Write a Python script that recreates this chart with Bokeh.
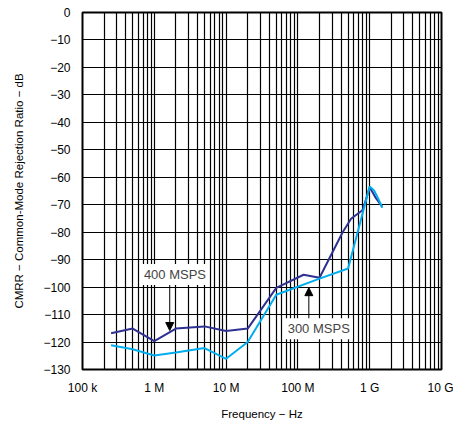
from bokeh.plotting import figure
from bokeh.models import FixedTicker, Label, Arrow, NormalHead, Range1d
from bokeh.embed import file_html
from bokeh.resources import INLINE

# ---- data ----
freq_400 = [0.25e6, 0.5e6, 1e6, 2e6, 5e6, 10e6, 20e6, 50e6, 120e6, 200e6,
            420e6, 550e6, 800e6, 1.0e9, 1.2e9, 1.5e9]
cmrr_400 = [-116.8, -115.1, -119.7, -115.1, -114.3, -116.0, -115.1, -100.3, -95.5, -96.6,
            -80.0, -75.1, -71.9, -63.6, -67.3, -70.8]

freq_300 = [0.25e6, 0.5e6, 1e6, 2e6, 5e6, 10e6, 20e6, 50e6, 200e6, 500e6,
            1.0e9, 1.15e9, 1.25e9, 1.5e9]
cmrr_300 = [-121.2, -122.6, -124.9, -123.8, -122.2, -126.1, -120.0, -102.8, -96.9, -93.2,
            -63.4, -64.8, -66.6, -71.1]

x_ticks = [1e5, 1e6, 1e7, 1e8, 1e9, 1e10]
x_tick_labels = ["100 k", "1 M", "10 M", "100 M", "1 G", "10 G"]
y_ticks = list(range(-130, 1, 10))
y_tick_labels = ["0" if v == 0 else "\u2212" + str(-v) for v in y_ticks]

DARK = "#2E3192"
LIGHT = "#00AEEF"
FONT = "Liberation Sans"

p = figure(width=453, height=422, x_axis_type="log",
           x_range=Range1d(1e5, 1e10), y_range=Range1d(-130, 0),
           output_backend="svg", toolbar_location=None,
           min_border_left=82, min_border_right=12, min_border_top=12, min_border_bottom=53)

minor = [m * d for d in x_ticks[:-1] for m in range(2, 10)]
p.xaxis.ticker = FixedTicker(ticks=x_ticks, minor_ticks=minor)
p.yaxis.ticker = FixedTicker(ticks=y_ticks)
p.xaxis.major_label_overrides = {t: l for t, l in zip(x_ticks, x_tick_labels)}
p.yaxis.major_label_overrides = {t: l for t, l in zip(y_ticks, y_tick_labels)}

for ax in (p.xaxis, p.yaxis):
    ax.major_tick_line_color = None
    ax.minor_tick_line_color = None
    ax.axis_line_color = None
    ax.major_label_text_font = FONT
    ax.major_label_text_font_size = "12px"
    ax.major_label_text_color = "black"
    ax.axis_label_text_font = FONT
    ax.axis_label_text_font_size = "11.5px"
    ax.axis_label_text_font_style = "normal"
    ax.axis_label_text_color = "black"

p.xaxis.axis_label = "Frequency \u2212 Hz"
p.yaxis.axis_label = "CMRR \u2212 Common-Mode Rejection Ratio \u2212 dB"
p.xaxis.major_label_standoff = 5
p.xaxis.axis_label_standoff = 10
p.yaxis.major_label_standoff = 6
p.yaxis.axis_label_standoff = 15

p.xgrid.ticker = p.xaxis.ticker
p.ygrid.ticker = p.yaxis.ticker
p.xgrid.grid_line_color = "black"
p.xgrid.grid_line_alpha = 1.0
p.xgrid.grid_line_width = 1.2
p.xgrid.minor_grid_line_color = "black"
p.xgrid.minor_grid_line_width = 1.2
p.ygrid.grid_line_color = "black"
p.ygrid.grid_line_alpha = 1.0
p.ygrid.grid_line_width = 1.2

p.outline_line_color = "black"
p.outline_line_width = 2
p.background_fill_color = "white"
p.border_fill_color = "white"

p.line(freq_400, cmrr_400, line_color=DARK, line_width=2)
p.line(freq_300, cmrr_300, line_color=LIGHT, line_width=2)

# annotations
p.add_layout(Arrow(end=NormalHead(size=8, fill_color="black", line_color="black"),
                   x_start=1.64e6, y_start=-99, x_end=1.64e6, y_end=-115.8,
                   line_color="black", line_width=1))
p.add_layout(Arrow(end=NormalHead(size=8, fill_color="black", line_color="black"),
                   x_start=142e6, y_start=-112, x_end=142e6, y_end=-100.2,
                   line_color="black", line_width=1))

p.add_layout(Label(x=1.94e6, y=-95.4, text="400 MSPS", text_align="center",
                   text_baseline="middle", text_font=FONT, text_font_size="13px",
                   background_fill_color="white", padding=3))
p.add_layout(Label(x=195e6, y=-115.2, text="300 MSPS", text_align="center",
                   text_baseline="middle", text_font=FONT, text_font_size="13px",
                   background_fill_color="white", padding=3))

open("out.html", "w").write(file_html(p, INLINE))
